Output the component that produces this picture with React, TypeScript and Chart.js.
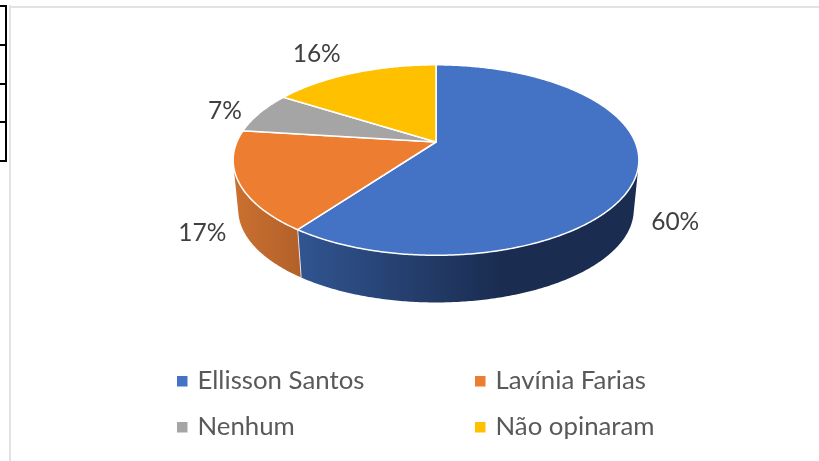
import React, { useEffect, useRef } from "react";
import { Chart, registerables } from "chart.js";

Chart.register(...registerables);

const categories = ["Ellisson Santos", "Lavínia Farias", "Nenhum", "Não opinaram"];
const shares = [60, 17, 7, 16];
const topColors = ["#4472C4", "#ED7D31", "#A5A5A5", "#FFC000"];
const wallStart = ["#315591", "#CB7130", "#8A8A8A", "#D9A300"];
const wallEnd = ["#1A2C50", "#B2602A", "#707070", "#B08400"];
const valueLabels = ["60%", "17%", "7%", "16%"];

const FONT = "Lato, 'Open Sans', sans-serif";

// Perspective of the tilted disc, relative to the radius the pie controller gives.
const STRETCH_X = 1.41;
const STRETCH_Y = 0.65;
const PERSPECTIVE = 0.1895;
const FLOOR_SCALE = 0.975;
const DEPTH = 50;

type Pt = [number, number];

function project(cx: number, cy: number, R: number, angle: number, floor = false): Pt {
  const u = Math.cos(angle);
  const v = Math.sin(angle);
  const w = 1 - PERSPECTIVE * v;
  const x = (R * STRETCH_X * u) / w;
  const y = (R * STRETCH_Y * v) / w;
  return floor
    ? [cx + x * FLOOR_SCALE, cy + y * FLOOR_SCALE + DEPTH]
    : [cx + x, cy + y];
}

function rim(cx: number, cy: number, R: number, a0: number, a1: number, floor = false): Pt[] {
  const n = Math.max(2, Math.ceil(Math.abs(a1 - a0) / 0.01));
  const pts: Pt[] = [];
  for (let i = 0; i <= n; i++) pts.push(project(cx, cy, R, a0 + ((a1 - a0) * i) / n, floor));
  return pts;
}

const pie3d = {
  id: "pie3d",
  beforeDatasetsDraw(chart: any) {
    const { ctx } = chart;
    const arcs = chart.getDatasetMeta(0).data;
    ctx.save();
    // side walls: the swept surface between top rim and floor rim
    arcs.forEach((arc: any, i: number) => {
      const { x, y, outerRadius: R, startAngle, endAngle } = arc;
      const top = rim(x, y, R, startAngle, endAngle);
      const bottom = rim(x, y, R, startAngle, endAngle, true);
      const xs = top.concat(bottom).map((p) => p[0]);
      const left = Math.min(...xs);
      const right = Math.max(...xs);
      const g = ctx.createLinearGradient(left, 0, i === 0 ? left + 0.6 * (right - left) : right, 0);
      g.addColorStop(0, wallStart[i]);
      g.addColorStop(1, wallEnd[i]);
      ctx.beginPath();
      for (let k = 0; k < top.length - 1; k++) {
        const quad = [top[k], top[k + 1], bottom[k + 1], bottom[k]];
        let area = 0;
        quad.forEach((p, j) => {
          const q = quad[(j + 1) % 4];
          area += p[0] * q[1] - q[0] * p[1];
        });
        if (area < 0) quad.reverse();
        quad.forEach((p, j) => (j ? ctx.lineTo(p[0], p[1]) : ctx.moveTo(p[0], p[1])));
        ctx.closePath();
      }
      ctx.fillStyle = g;
      ctx.fill("nonzero");
    });
    // seams on the visible wall
    arcs.forEach((arc: any) => {
      const { x, y, outerRadius: R, startAngle } = arc;
      if (Math.sin(startAngle) < 0.3) return;
      const a = project(x, y, R, startAngle);
      const b = project(x, y, R, startAngle, true);
      ctx.beginPath();
      ctx.moveTo(a[0], a[1]);
      ctx.lineTo(b[0], b[1]);
      ctx.strokeStyle = "rgba(255,255,255,0.75)";
      ctx.lineWidth = 1;
      ctx.stroke();
    });
    // top faces
    arcs.forEach((arc: any) => {
      const { x, y, outerRadius: R, startAngle, endAngle, options } = arc;
      ctx.beginPath();
      ctx.moveTo(x, y);
      rim(x, y, R, startAngle, endAngle).forEach((p) => ctx.lineTo(p[0], p[1]));
      ctx.closePath();
      ctx.fillStyle = options.backgroundColor;
      ctx.fill();
      ctx.strokeStyle = options.borderColor;
      ctx.lineWidth = options.borderWidth;
      ctx.lineJoin = "round";
      ctx.stroke();
    });
    ctx.restore();
    return false;
  },
  afterDraw(chart: any) {
    const { ctx } = chart;
    const arcs = chart.getDatasetMeta(0).data;
    ctx.save();
    // value labels, placed outside the rim along each slice's middle angle
    const labelShift: Pt[] = [[38, 50], [-36, 52], [-35, -2], [-37, -19]];
    ctx.font = `24.5px ${FONT}`;
    ctx.fillStyle = "#404040";
    ctx.textAlign = "center";
    ctx.textBaseline = "middle";
    arcs.forEach((arc: any, i: number) => {
      const mid = (arc.startAngle + arc.endAngle) / 2;
      const p = project(arc.x, arc.y, arc.outerRadius, mid);
      ctx.fillText(valueLabels[i], p[0] + labelShift[i][0], p[1] + labelShift[i][1]);
    });
    // two-column legend
    const cols = [177, 475];
    const rows = [389, 435];
    ctx.font = `25.8px ${FONT}`;
    ctx.textAlign = "left";
    ctx.textBaseline = "alphabetic";
    chart.data.labels.forEach((label: string, i: number) => {
      const lx = cols[i % 2];
      const ly = rows[Math.floor(i / 2)];
      ctx.fillStyle = chart.data.datasets[0].backgroundColor[i];
      ctx.fillRect(lx, ly - 13, 10.5, 10.5);
      ctx.fillStyle = "#595959";
      ctx.fillText(label, lx + 20.5, ly);
    });
    ctx.restore();
  },
};

const rule = (left: number, top: number, width: number, height: number, background: string) => (
  <div style={{ position: "absolute", left, top, width, height, background }} />
);

export default function App() {
  const ref = useRef<HTMLCanvasElement>(null);
  useEffect(() => {
    document.body.style.margin = "0";
    document.body.style.background = "#fff";
    const chart = new Chart(ref.current as HTMLCanvasElement, {
      type: "pie",
      data: {
        labels: categories,
        datasets: [
          {
            data: shares,
            backgroundColor: topColors,
            borderColor: "#ffffff",
            borderWidth: 1.5,
          },
        ],
      },
      options: {
        animation: false,
        responsive: false,
        layout: { padding: { left: 53, right: 0, top: 0, bottom: 177 } },
        plugins: { legend: { display: false }, tooltip: { enabled: false } },
      },
      plugins: [pie3d],
    });
    return () => chart.destroy();
  }, []);
  return (
    <div style={{ position: "relative", width: 819, height: 461, overflow: "hidden", background: "#fff" }}>
      {rule(9, 5, 2, 456, "#e2e2e2")}
      {rule(9, 6, 810, 2, "#e2e2e2")}
      {rule(5, 5, 2, 157, "#000")}
      {rule(0, 5, 6, 2, "#000")}
      {rule(0, 44, 6, 2, "#000")}
      {rule(0, 82.5, 6, 2, "#000")}
      {rule(0, 121, 6, 2, "#000")}
      {rule(0, 160, 6, 2, "#000")}
      <canvas ref={ref} width={819} height={461} style={{ position: "absolute", left: 0, top: 0, width: 819, height: 461 }} />
    </div>
  );
}
